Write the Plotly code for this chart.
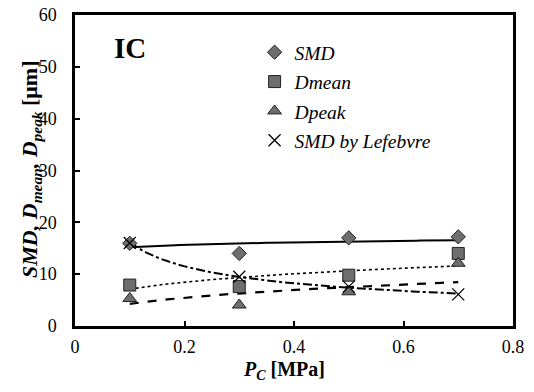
import numpy as np
import plotly.graph_objects as go

pc = [0.1, 0.3, 0.5, 0.7]
smd = [15.95, 14.0, 17.0, 17.2]
dmean = [7.9, 7.6, 9.8, 14.0]
dpeak = [5.3, 4.05, 6.6, 12.1]
smd_lef = [16.0, 9.5, 7.6, 6.1]

names = ["SMD", "Dmean", "Dpeak", "SMD by Lefebvre"]
series = [smd, dmean, dpeak, smd_lef]
symbols = ["diamond", "square", "triangle-up", "x-thin"]
sizes = [11, 12, 12, 12]
dashes = ["solid", "dot", "dash", "dashdot"]
widths = [2.0, 1.6, 2.2, 2.0]

FONT = "Liberation Serif"
GRAY = "#6e6e6e"

fig = go.Figure()

xfit = np.linspace(min(pc), max(pc), 80)
for i, ys in enumerate(series):
    b, a = np.polyfit(np.log(pc), np.log(ys), 1)
    yfit = np.exp(a) * xfit ** b
    fig.add_trace(go.Scatter(x=xfit, y=yfit, mode="lines",
                             line=dict(color="black", width=widths[i], dash=dashes[i]),
                             showlegend=False, hoverinfo="skip"))

for i, ys in enumerate(series):
    if symbols[i] == "x-thin":
        marker = dict(symbol="x-thin", size=sizes[i], line=dict(color="black", width=1.3))
    else:
        marker = dict(symbol=symbols[i], size=sizes[i], color=GRAY,
                      line=dict(color="#222222", width=1))
    fig.add_trace(go.Scatter(x=pc, y=ys, mode="markers", name="<i>%s</i>" % names[i],
                             marker=marker, legendgroup=names[i]))

fig.update_layout(
    width=534, height=392,
    margin=dict(l=75, r=21, t=15, b=66, autoexpand=False),
    paper_bgcolor="white", plot_bgcolor="white",
    font=dict(family=FONT, size=18, color="black"),
    showlegend=True,
    legend=dict(x=0.41, y=0.942, xanchor="left", yanchor="top",
                bgcolor="rgba(0,0,0,0)", font=dict(family=FONT, size=19.5),
                tracegroupgap=1, traceorder="grouped"),
    xaxis=dict(range=[0, 0.8], tickvals=[0, 0.2, 0.4, 0.6, 0.8],
               ticktext=["0", "0.2", "0.4", "0.6", "0.8"], automargin=False,
               showgrid=False, zeroline=False, showline=True, linecolor="black",
               linewidth=2.5, mirror=True, ticks="inside", ticklen=5, tickwidth=1.5,
               tickcolor="black", ticklabelstandoff=3,
               tickfont=dict(family=FONT, size=18)),
    yaxis=dict(range=[0, 60], tickvals=[0, 10, 20, 30, 40, 50, 60], automargin=False,
               showgrid=False, zeroline=False, showline=True, linecolor="black",
               linewidth=2.5, mirror=True, ticks="inside", ticklen=5, tickwidth=1.5,
               tickcolor="black", ticklabelstandoff=12,
               tickfont=dict(family=FONT, size=18)),
)

fig.add_annotation(text="<b>IC</b>", xref="paper", yref="paper", x=0.0845, y=0.894,
                   xanchor="left", yanchor="middle", showarrow=False,
                   font=dict(family=FONT, size=29))
fig.add_annotation(text="<b><i>SMD, D<sub>mean</sub>, D<sub>peak</sub></i> [μm]</b>",
                   xref="paper", yref="paper", x=-0.1005, y=0.505, textangle=-90,
                   xanchor="center", yanchor="middle", showarrow=False,
                   font=dict(family=FONT, size=22))
fig.add_annotation(text="<b><i>P<sub>C</sub></i> [MPa]</b>",
                   xref="paper", yref="paper", x=0.477, y=-0.142,
                   xanchor="center", yanchor="middle", showarrow=False,
                   font=dict(family=FONT, size=20))

fig.write_html("out.html", config={"displayModeBar": False},
               post_script="document.body.style.margin='0';document.body.style.padding='0';")
